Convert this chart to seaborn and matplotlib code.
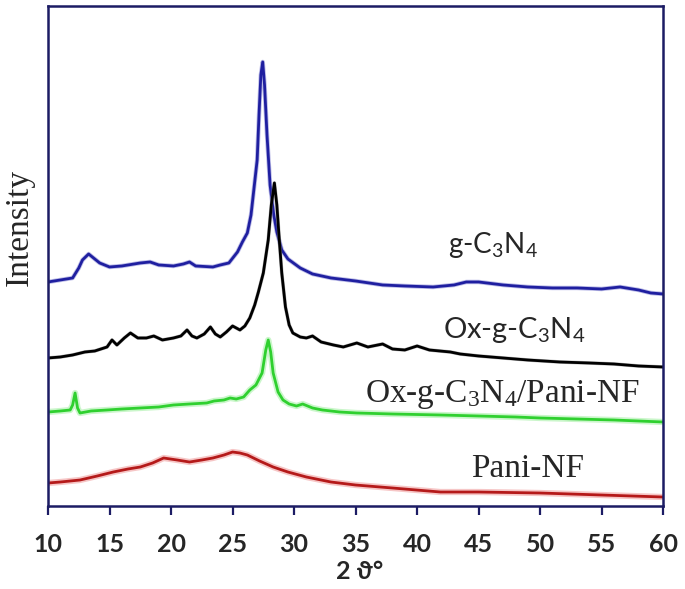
import matplotlib
matplotlib.use("Agg")
import matplotlib.pyplot as plt
import matplotlib.patheffects as pe
import numpy as np
import pandas as pd
import seaborn as sns

# XRD patterns (2 theta in degrees, intensity in arbitrary units)
theta_gcn = [10, 11, 12, 12.5, 12.8, 13.3, 13.8, 14.2, 15, 16, 17, 17.5, 18.3, 19, 20.2,
             21, 21.5, 22, 23.4, 24, 24.7, 25.4, 25.8, 26.2, 26.5, 27.0, 27.15, 27.3, 27.45, 27.6,
             27.8, 28.05, 28.35, 28.6, 29.0, 29.5, 30.5, 31.5, 33, 35, 37.2, 39, 41.3, 43, 44,
             45, 47, 49, 51, 53, 55, 56.5, 58, 59, 60]
int_gcn = [224, 226, 228, 238, 246, 252, 247, 243, 239, 240, 242, 243, 244, 241, 240,
           242, 244, 240, 239, 241, 243, 254, 264, 273, 291, 346, 391, 431, 444, 421,
           371, 321, 291, 274, 256, 247, 238, 232, 228, 225, 221, 220, 219, 221, 224,
           224, 221, 219, 218, 218, 217, 219, 216, 213, 212]

theta_ox = [10, 11, 12, 13, 13.8, 14.8, 15.2, 15.6, 16.2, 16.7, 17.3, 18, 18.6, 19.3, 20.2,
            20.8, 21.3, 21.7, 22.1, 22.7, 23.2, 23.6, 24.0, 24.5, 25.0, 25.6, 26.0, 26.4, 26.8, 27.1,
            27.5, 27.9, 28.15, 28.4, 28.6, 28.8, 29.0, 29.3, 29.6, 29.9, 30.5, 31.0, 31.5, 32.2, 33.2,
            34, 35.1, 36, 37.2, 38, 39, 40, 41, 42.7, 43.5, 45, 47, 49, 51.6, 54, 56, 58, 60]
int_ox = [148, 149, 151, 154, 155, 159, 166, 161, 168, 173, 168, 168, 170, 166, 168,
          170, 176, 170, 168, 172, 179, 172, 169, 174, 180, 176, 180, 188, 201, 214,
          233, 266, 301, 323, 301, 266, 233, 199, 181, 173, 169, 168, 170, 164, 161,
          159, 163, 159, 162, 157, 156, 160, 156, 154, 152, 150, 148, 146, 144, 143, 142, 140, 139]

theta_comp = [10, 11, 11.8, 12.0, 12.2, 12.4, 12.6, 13.5, 14.8, 16, 17.5, 19, 20.2, 21.5, 22.9,
              23.5, 24.3, 24.8, 25.3, 25.9, 26.4, 26.9, 27.4, 27.7, 27.9, 28.1, 28.3, 28.7, 29.1, 29.6,
              30.2, 30.7, 31.5, 32.3, 33.7, 35.1, 38, 41.9, 45, 48, 50, 53, 56, 58, 60]
int_comp = [94, 95, 96, 101, 113, 98, 93, 95, 96, 97, 98, 99, 101, 102, 103,
            105, 106, 108, 107, 109, 116, 121, 133, 156, 166, 154, 133, 114, 106, 102,
            100, 102, 98, 96, 94, 93, 92, 91, 90, 89, 88, 87, 86, 85, 84]

theta_pani = [10, 11, 12.6, 14, 15.3, 16.5, 17.5, 18.5, 19.4, 20.5, 21.5, 22.5, 23.4, 24.3, 25,
              25.6, 26.2, 27.2, 28.3, 29.5, 31, 33, 35, 38, 41.9, 45, 50, 55, 60]
int_pani = [23, 24, 26, 30, 34, 37, 39, 43, 48, 46, 44, 46, 48, 51, 54,
            53, 51, 45, 39, 34, 29, 24, 21, 18, 14, 14, 13, 11, 9]

xticks = [10, 15, 20, 25, 30, 35, 40, 45, 50, 55, 60]

sns.set_style("white")
plt.rcParams["font.family"] = ["Liberation Serif", "DejaVu Serif"]
plt.rcParams["mathtext.default"] = "regular"

edge = "#1c1c64"
sans = ["Lato", "DejaVu Sans"]

fig = plt.figure(figsize=(6.85, 5.89), dpi=100)
ax = fig.add_axes([0.0701, 0.1409, 0.898, 0.849])

series = [
    (theta_gcn, int_gcn, "#1f1fa0", "#9090d8", 3.2),
    (theta_ox, int_ox, "#000000", "#909090", 2.6),
    (theta_comp, int_comp, "#2fd02f", "#a8f0a8", 4.5),
    (theta_pani, int_pani, "#b51a1a", "#f0a0a0", 4.5),
]
for th, inten, col, halo, hw in series:
    df = pd.DataFrame({"theta": th, "intensity": inten})
    sns.lineplot(data=df, x="theta", y="intensity", ax=ax, color=col, linewidth=2.0,
                 estimator=None, sort=False)
    ax.lines[-1].set_path_effects([pe.Stroke(linewidth=hw, foreground=halo, alpha=0.6),
                                   pe.Normal()])

ax.set_xlim(10, 60)
ax.set_ylim(0, 500)
ax.set_xticks(xticks)
ax.set_yticks([])
for s in ax.spines.values():
    s.set_color(edge)
    s.set_linewidth(1.8)
    s.set_visible(True)
ax.tick_params(axis="x", direction="out", length=6.5, width=1.6, color=edge, pad=13,
               labelsize=18, bottom=True)
for lab in ax.get_xticklabels():
    lab.set_fontweight("bold")
    lab.set_family(sans)

ax.set_xlabel("2 \u03d1\u00b0", fontsize=18, fontweight="bold", family=sans)
ax.xaxis.label.set_va("center")
ax.xaxis.set_label_coords(0.507, -0.13)
ax.set_ylabel("Intensity", fontsize=24)
ax.yaxis.label.set_va("center")
ax.yaxis.set_label_coords(-0.046, 0.558)

# curve labels
ax.text(46.2, 253, "g-C$_3$N$_4$", fontsize=20, family=sans, ha="center", va="baseline")
ax.text(47.9, 168, "Ox-g-C$_3$N$_4$", fontsize=21, family=sans, ha="center", va="baseline")
ax.text(46.9, 104, "Ox-g-C$_3$N$_4$/Pani-NF", fontsize=24, ha="center", va="baseline")
ax.text(49.0, 29, "Pani-NF", fontsize=24, ha="center", va="baseline")

fig.savefig("out.png", dpi=100)
